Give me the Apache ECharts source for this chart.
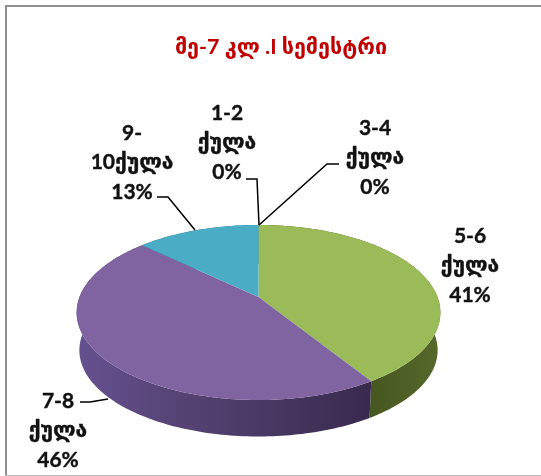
<!DOCTYPE html>
<html><head><meta charset="utf-8">
<style>html,body{margin:0;padding:0;background:#fff}#c{width:541px;height:476px}</style>
<script src="https://cdn.jsdelivr.net/npm/echarts@6/dist/echarts.min.js"></script>
</head><body><div id="c"></div>
<script>
const titleText = 'მე-7 კლ .I სემესტრი';
const categories = ['1-2\nქულა', '3-4\nქულა', '5-6\nქულა', '7-8\nქულა', '9-\n10ქულა'];
const seriesValues = [0, 0, 41, 46, 13];

const fontFamily = 'Lato, "DejaVu Sans", sans-serif';
const topColors = ['#4F81BD', '#C0504D', '#9BBB59', '#8064A2', '#4BACC6'];
const sideStops = [
  null, null,
  [[0, '#465620'], [1, '#56692a']],
  [[0, '#665190'], [0.3, '#584578'], [0.7, '#463660'], [1, '#392a4f']],
  [[0, '#2f6f80'], [1, '#2f6f80']]
];
const labelSpots = [
  {x: 227, y: 113, line: [[246,179],[257,179],[259,225]]},
  {x: 375, y: 128, line: [[339,164],[327,164],[259,225]]},
  {x: 470, y: 236, line: null},
  {x: 58,  y: 401, line: [[80,402],[90,402],[108,399]]},
  {x: 132, y: 133, line: [[157,197],[168,197],[195,230]]}
];
const pieShape = {cx: 258.5, cy: 297, rx: 179, ry: 84.8, k: -0.177, depth: 38, squeeze: 0.985};
const total = seriesValues.reduce((a, b) => a + b, 0);

function project(angle, offset, scale) {
  const u = Math.sin(angle), v = -Math.cos(angle), d = 1 + pieShape.k * v;
  return [pieShape.cx + scale * pieShape.rx * u / d, pieShape.cy + offset + scale * pieShape.ry * v / d];
}
function arcPoints(a0, a1, offset, scale) {
  const n = Math.max(2, Math.ceil((a1 - a0) / 0.02)), out = [];
  for (let i = 0; i <= n; i++) out.push(project(a0 + (a1 - a0) * i / n, offset, scale));
  return out;
}
const spans = [];
let acc = 0;
seriesValues.forEach(v => { const a0 = acc / total * 2 * Math.PI; acc += v; spans.push([a0, acc / total * 2 * Math.PI]); });

function renderSide(params, api) {
  const i = api.value(0);
  if (api.value(1) <= 0) return {type: 'group', children: []};
  const [a0, a1] = spans[i];
  const upper = arcPoints(a0, a1, 0, 1);
  const lower = arcPoints(a0, a1, pieShape.depth, pieShape.squeeze).reverse();
  return {type: 'polygon', shape: {points: upper.concat(lower)},
    style: {fill: {type: 'linear', x: i === 2 ? 368 : 77, y: 0, x2: i === 2 ? 440 : 368, y2: 0, global: true,
      colorStops: sideStops[i].map(s => ({offset: s[0], color: s[1]}))}}};
}
function renderTop(params, api) {
  const i = api.value(0);
  if (api.value(1) <= 0) return {type: 'group', children: []};
  const [a0, a1] = spans[i];
  const pts = [[pieShape.cx, pieShape.cy]].concat(arcPoints(a0, a1, 0, 1));
  return {type: 'polygon', shape: {points: pts}, style: {fill: topColors[i]}};
}
const data = seriesValues.map((v, i) => [i, v]);
const labelGraphics = [];
categories.forEach((c, i) => {
  const s = labelSpots[i];
  labelGraphics.push({type: 'text', x: s.x, y: s.y - 15, z: 10, style: {
    text: c + '\n' + seriesValues[i] + '%', fill: '#111', font: 'bold 21px ' + fontFamily,
    stroke: '#111', lineWidth: 0.4,
    lineHeight: 29.5, align: 'center', verticalAlign: 'top'}});
  if (s.line) labelGraphics.push({type: 'polyline', z: 11, shape: {points: s.line},
    style: {stroke: '#000', lineWidth: 1.5, fill: 'none'}});
});
const chart = echarts.init(document.getElementById('c'), null, {renderer: 'canvas'});
chart.setOption({
  animation: false,
  backgroundColor: '#fff',
  title: {text: titleText, left: 276, top: 31, textAlign: 'center',
    textStyle: {color: '#C00000', fontFamily, fontSize: 21.5, fontWeight: 'bold'}},
  graphic: [
    {type: 'polyline', shape: {points: [[6,476],[6,6],[541,6]]}, style: {stroke: '#8f8f8f', lineWidth: 2, fill: 'none'}},
    {type: 'line', shape: {x1: 5, y1: 475.5, x2: 541, y2: 475.5}, style: {stroke: '#bbb', lineWidth: 1}}
  ].concat(labelGraphics),
  series: [
    {type: 'custom', coordinateSystem: 'none', renderItem: renderSide, data, z: 1, silent: true},
    {type: 'custom', coordinateSystem: 'none', renderItem: renderTop, data, z: 2, silent: true}
  ]
});
</script></body></html>
